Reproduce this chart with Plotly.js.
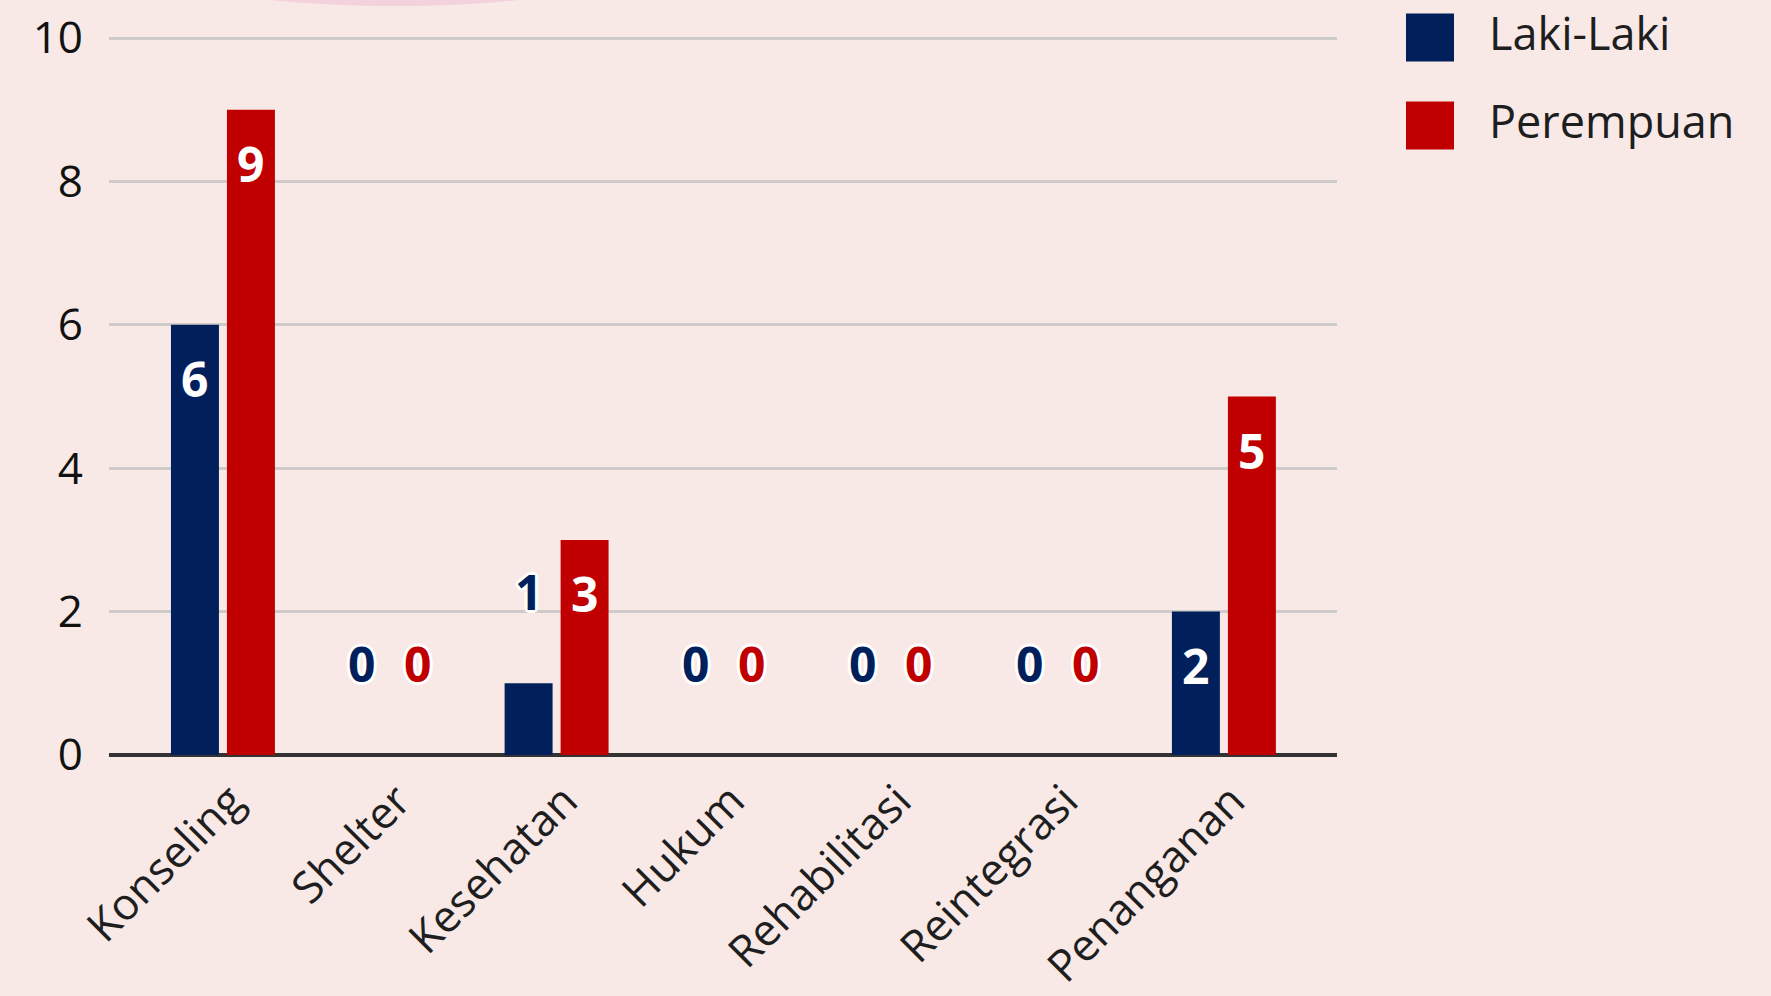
<!DOCTYPE html>
<html>
<head>
<meta charset="utf-8">
<script src="https://cdn.plot.ly/plotly-3.0.1.min.js"></script>
<style>
  html, body { margin: 0; padding: 0; background: #F8E9E7; }
  #chart { width: 1771px; height: 996px; }
</style>
</head>
<body>
<div id="chart"></div>
<script>
// ---- data ----
const categories = ["Konseling", "Shelter", "Kesehatan", "Hukum", "Rehabilitasi", "Reintegrasi", "Penanganan"];
const lakiLaki = [6, 0, 1, 0, 0, 0, 2];
const perempuan = [9, 0, 3, 0, 0, 0, 5];
const seriesNames = ["Laki-Laki", "Perempuan"];
const seriesColors = ["#001F5B", "#C00000"];
const yTickVals = [0, 2, 4, 6, 8, 10];

// ---- layout constants ----
const W = 1771, H = 996;
const M = { l: 109, r: 434, t: 37, b: 241 };
const plotW = W - M.l - M.r, plotH = H - M.t - M.b;
const px2x = px => (px - M.l) / plotW;
const py2y = py => (H - M.b - py) / plotH;

const barWidth = 0.2876;
const barOffsets = [-0.3116, 0.024];
const FONT = "Open Sans, Noto Sans, sans-serif";

const seriesValues = [lakiLaki, perempuan];
const idx = categories.map((_, i) => i);

const traces = seriesValues.map((vals, s) => ({
  type: "bar",
  name: seriesNames[s],
  x: idx,
  y: vals,
  width: barWidth,
  offset: barOffsets[s],
  marker: { color: seriesColors[s], line: { width: 0 } },
  hoverinfo: "x+y",
  showlegend: false
}));

const outline = "3px 0 0 #fff, -3px 0 0 #fff, 0 3px 0 #fff, 0 -3px 0 #fff, 2px 2px 0 #fff, -2px -2px 0 #fff, 2px -2px 0 #fff, -2px 2px 0 #fff";
const annotations = [];
seriesValues.forEach((vals, s) => {
  vals.forEach((v, i) => {
    const inside = v >= 2;
    annotations.push({
      x: i + barOffsets[s] + barWidth / 2,
      y: v,
      xref: "x", yref: "y",
      text: String(v),
      showarrow: false,
      xanchor: "center", yanchor: "middle",
      yshift: inside ? -54 : 92,
      font: inside
        ? { family: FONT, size: 48, color: "#FFFFFF", weight: 700 }
        : { family: FONT, size: 48, color: seriesColors[s], weight: 700, shadow: outline }
    });
  });
});

// custom legend
const legendCentersPx = [37.5, 125.5];
const shapes = [];
seriesNames.forEach((name, s) => {
  const cy = legendCentersPx[s];
  shapes.push({
    type: "rect", xref: "paper", yref: "paper",
    x0: px2x(1406), x1: px2x(1454), y0: py2y(cy + 24), y1: py2y(cy - 24),
    fillcolor: seriesColors[s], line: { width: 0 }
  });
  annotations.push({
    xref: "paper", yref: "paper",
    x: px2x(1487), y: py2y(cy - 5),
    xanchor: "left", yanchor: "middle",
    text: name, showarrow: false,
    font: { family: FONT, size: 45, color: "#1E1E1E" }
  });
});

// decorative pink blob at top edge
shapes.push({
  type: "circle", xref: "paper", yref: "paper", layer: "below",
  x0: px2x(190), x1: px2x(600), y0: py2y(6), y1: py2y(-52),
  fillcolor: "#F3D1DD", line: { width: 0 }
});

const layout = {
  width: W, height: H,
  margin: M,
  paper_bgcolor: "#F8E9E7",
  plot_bgcolor: "#F8E9E7",
  barmode: "overlay",
  showlegend: false,
  xaxis: {
    type: "category",
    range: [-0.683, 6.678],
    tickvals: idx,
    ticktext: categories,
    tickangle: -45,
    tickfont: { family: FONT, size: 44, color: "#1E1E1E" },
    showgrid: false,
    showline: false,
    ticks: "",
    ticklabelstandoff: 10,
    ticklabelshift: 8,
    zeroline: false,
    automargin: false,
    fixedrange: true
  },
  yaxis: {
    range: [0, 10.015],
    tickvals: yTickVals,
    tickfont: { family: FONT, size: 44, color: "#111111" },
    showgrid: true,
    gridcolor: "#CFCBCB",
    gridwidth: 3,
    zeroline: true,
    zerolinecolor: "#333333",
    zerolinewidth: 4,
    showline: false,
    ticks: "",
    ticklabelstandoff: 25,
    automargin: false,
    fixedrange: true
  },
  shapes: shapes,
  annotations: annotations
};

Plotly.newPlot("chart", traces, layout, { displayModeBar: false, staticPlot: true });
</script>
</body>
</html>
